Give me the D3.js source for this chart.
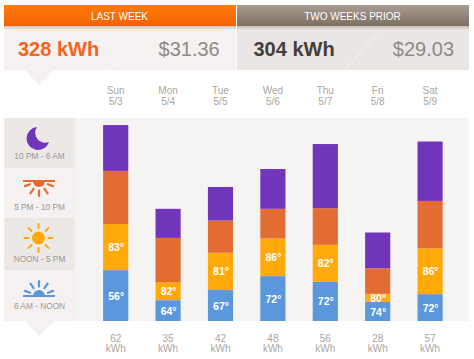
<!DOCTYPE html>
<html lang="en">
<head>
  <meta charset="UTF-8">
  <title>Weekly energy use</title>
  <script src='https://d3js.org/d3.v7.min.js'></script>
  <style>
    html, body { margin: 0; padding: 0; background: #fff; }
    svg { display: block; }
    text { font-family: "Liberation Sans", Arial, sans-serif; }
  </style>
</head>
<body>
</body>
<script>
  // values
  const days = ['Sun', 'Mon', 'Tue', 'Wed', 'Thu', 'Fri', 'Sat'];
  const dates = ['5/3', '5/4', '5/5', '5/6', '5/7', '5/8', '5/9'];
  const totals = [62, 35, 42, 48, 56, 28, 57];
  const morning = [16.1, 6.6, 9.8, 14.2, 12.4, 6.0, 8.5];
  const afternoon = [14.6, 5.6, 11.8, 11.9, 11.7, 2.6, 14.5];
  const evening = [16.8, 14.1, 10.2, 9.4, 11.6, 8.1, 15.0];
  const night = [14.5, 9.2, 10.6, 12.6, 20.3, 11.3, 18.8];
  const morningTemps = [56, 64, 67, 72, 72, 74, 72];
  const afternoonTemps = [83, 82, 81, 86, 82, 80, 86];
  const seriesKeys = ['morning', 'afternoon', 'evening', 'night'];
  const seriesColors = ['#5b97dc', '#ffa90a', '#e36c33', '#7035bb'];
  const periodLabels = ['10 PM - 6 AM', '5 PM - 10 PM', 'NOON - 5 PM', '6 AM - NOON'];

  const width = 474, height = 359;
  const svg = d3.select('body').append('svg').attr('width', width).attr('height', height);
  const defs = svg.append('defs');

  function gradient(id, top, bottom) {
    const g = defs.append('linearGradient').attr('id', id).attr('x1', 0).attr('x2', 0).attr('y1', 0).attr('y2', 1);
    g.append('stop').attr('offset', '0%').attr('stop-color', top);
    g.append('stop').attr('offset', '100%').attr('stop-color', bottom);
  }
  gradient('orangeHead', '#ff7c0c', '#f26200');
  gradient('greyHead', '#a99c90', '#7d6e62');
  gradient('shade', '#c9c5c2', '#f4f1f0');
  gradient('shadeRight', '#c4c0bc', '#e9e6e3');

  // header panels
  const panels = [
    {x: 4, w: 232, head: 'orangeHead', shade: 'shade', bg: '#f4f1f0', title: 'LAST WEEK', kwh: '328 kWh', kwhColor: '#f4641e', kwhX: 18, cost: '$31.36', costX: 219.7, slashX: 110},
    {x: 237, w: 232, head: 'greyHead', shade: 'shadeRight', bg: '#e9e6e3', title: 'TWO WEEKS PRIOR', kwh: '304 kWh', kwhColor: '#453f3b', kwhX: 253.5, cost: '$29.03', costX: 454, slashX: 344}
  ];
  panels.forEach(p => {
    svg.append('rect').attr('x', p.x).attr('y', 26).attr('width', p.w).attr('height', 44).attr('fill', p.bg);
    svg.append('rect').attr('x', p.x).attr('y', 26).attr('width', p.w).attr('height', 4).attr('fill', `url(#${p.shade})`);
    svg.append('rect').attr('x', p.x).attr('y', 5).attr('width', p.w).attr('height', 21).attr('fill', `url(#${p.head})`);
    svg.append('text').attr('x', p.x + 115.5).attr('y', 19.5).attr('text-anchor', 'middle')
      .attr('font-size', 10).attr('fill', '#fff').text(p.title);
    svg.append('line').attr('x1', p.slashX).attr('y1', 70).attr('x2', p.slashX + 34).attr('y2', 34)
      .attr('stroke', '#fff').attr('stroke-opacity', 0.6);
    svg.append('text').attr('x', p.kwhX).attr('y', 56).attr('font-size', 20).attr('font-weight', 'bold')
      .attr('fill', p.kwhColor).text(p.kwh);
    svg.append('text').attr('x', p.costX).attr('y', 56).attr('text-anchor', 'end').attr('font-size', 20)
      .attr('fill', '#8f8a85').text(p.cost);
  });
  // little pointer under the first panel
  svg.append('path').attr('d', 'M25,70L39,85L54,70Z').attr('fill', '#f4f1f0');

  // chart area
  const plotLeft = 4, plotRight = 469, plotTop = 118, baseY = 321;
  svg.append('rect').attr('x', plotLeft).attr('y', plotTop).attr('width', plotRight - plotLeft)
    .attr('height', baseY - plotTop).attr('fill', '#f6f3f3');
  svg.append('path').attr('d', 'M25,321L39,336L54,321Z').attr('fill', '#f4f1f0');

  // legend blocks
  const blockEdges = [118, 168, 218, 270, 321];
  periodLabels.forEach((label, i) => {
    svg.append('rect').attr('x', 4).attr('y', blockEdges[i]).attr('width', 71)
      .attr('height', blockEdges[i + 1] - blockEdges[i]).attr('fill', i % 2 === 0 ? '#ebe8e6' : '#f4f1f0');
  });
  const labelYs = [159, 210, 262, 309];
  svg.append('g').selectAll('text').data(periodLabels).join('text')
    .attr('x', 39.5).attr('y', (_, i) => labelYs[i]).attr('text-anchor', 'middle')
    .attr('font-size', 8.3).attr('fill', '#9c9794').text(d => d);

  // rays for the sun icons
  function rays(g, cx, cy, r0, r1, angles, color, w) {
    g.selectAll('line').data(angles).join('line')
      .attr('x1', a => cx + r0 * Math.cos(a * Math.PI / 180))
      .attr('y1', a => cy + r0 * Math.sin(a * Math.PI / 180))
      .attr('x2', a => cx + r1 * Math.cos(a * Math.PI / 180))
      .attr('y2', a => cy + r1 * Math.sin(a * Math.PI / 180))
      .attr('stroke', color).attr('stroke-width', w).attr('stroke-linecap', 'round');
  }

  // moon
  svg.append('path').attr('fill', '#7035bb')
    .attr('d', 'M37,127A11.5,11.5 0 1 0 49,142A10,10 0 0 1 37,127Z');

  // evening sun, setting
  svg.append('path').attr('fill', '#e36c33').attr('d', 'M33,181A6,6 0 0 0 45,181Z');
  svg.append('line').attr('x1', 23).attr('x2', 55).attr('y1', 181).attr('y2', 181)
    .attr('stroke', '#e36c33').attr('stroke-width', 2);
  rays(svg.append('g'), 39, 181, 9.5, 15, [20, 55, 90, 125, 160], '#e36c33', 2.2);

  // noon sun
  svg.append('circle').attr('cx', 38.5).attr('cy', 238).attr('r', 6.5).attr('fill', '#ffa90a');
  rays(svg.append('g'), 38.5, 238, 10, 14, d3.range(0, 360, 45), '#ffa90a', 2);

  // morning sun, rising
  svg.append('path').attr('fill', '#5b97dc').attr('d', 'M33,296A6,6 0 0 1 45,296Z');
  svg.append('line').attr('x1', 23).attr('x2', 55).attr('y1', 296).attr('y2', 296)
    .attr('stroke', '#5b97dc').attr('stroke-width', 2);
  rays(svg.append('g'), 39, 296, 9.5, 15, [-160, -125, -90, -55, -20], '#5b97dc', 2.2);

  // scales
  const x = d3.scaleBand().domain(days).range([89.5, 456.3]).paddingInner(0.52).paddingOuter(0.26);
  const y = d3.scaleLinear().domain([0, 62]).range([baseY, baseY - 62 * 3.16]);

  const rows = days.map((day, i) => ({
    day, morning: morning[i], afternoon: afternoon[i], evening: evening[i], night: night[i]
  }));
  const stacked = d3.stack().keys(seriesKeys)(rows);

  svg.append('g').selectAll('g').data(stacked).join('g')
    .attr('fill', (_, i) => seriesColors[i])
    .selectAll('rect').data(d => d).join('rect')
    .attr('x', d => x(d.data.day))
    .attr('width', x.bandwidth())
    .attr('y', d => y(d[1]))
    .attr('height', d => y(d[0]) - y(d[1]));

  // temperature labels in the two lower segments
  [morningTemps, afternoonTemps].forEach((temps, s) => {
    svg.append('g').selectAll('text').data(temps).join('text')
      .attr('x', (_, i) => x(days[i]) + x.bandwidth() / 2 + 0.5)
      .attr('y', (_, i) => (y(stacked[s][i][0]) + y(stacked[s][i][1])) / 2 + 4)
      .attr('text-anchor', 'middle').attr('font-size', 10.5).attr('font-weight', 'bold')
      .attr('fill', '#fff').text(d => `${d}°`);
  });

  // day labels above, totals below
  const bandCenter = d => x(d) + x.bandwidth() / 2;
  const textColor = '#aaa6a3';
  function labelRow(values, yPos) {
    svg.append('g').selectAll('text').data(values).join('text')
      .attr('x', (_, i) => bandCenter(days[i])).attr('y', yPos).attr('text-anchor', 'middle')
      .attr('font-size', 10).attr('fill', textColor).text(d => d);
  }
  labelRow(days, 94);
  labelRow(dates, 104.5);
  labelRow(totals, 342);
  labelRow(days.map(() => 'kWh'), 352);
</script>
</html>
